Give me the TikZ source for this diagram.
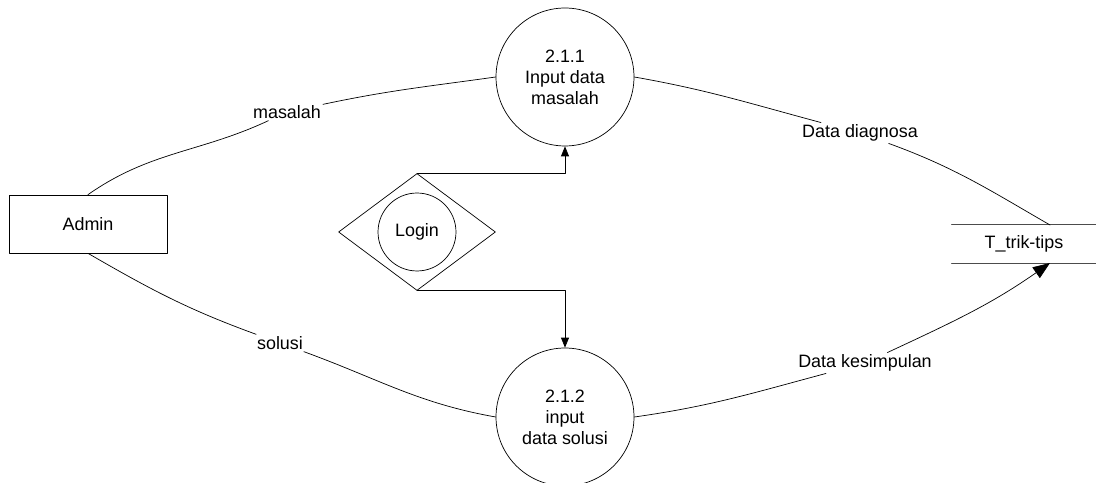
\documentclass[tikz,border=0pt]{standalone}
\usepackage{fontspec}
\setmainfont{Liberation Sans}
\usetikzlibrary{shapes.geometric,arrows.meta}
\tikzset
{
  process/.style={draw,circle,minimum size=2.76cm,inner sep=0pt,align=center},
  entity/.style={draw,rectangle,minimum width=3.16cm,minimum height=1.16cm},
  gate/.style={draw,diamond,minimum width=3.14cm,minimum height=2.34cm,inner sep=0pt},
  flowlabel/.style={inner sep=1pt},
  flow/.style={-{Triangle[length=2mm,width=1.6mm]}},
  bigflow/.style={-{Triangle[length=3.4mm,width=2.6mm]}}
}

\begin{document}
\begin{tikzpicture}[x=0.02cm,y=0.02cm,line cap=round,line join=round,
    font=\fontsize{10.2}{12}\selectfont]
            \useasboundingbox (0,0) rectangle (1096,483);
            % vozlisca
            \node[entity]  (admin) at (88,259)  {Admin};
            \node[process] (p211)  at (565,406) {2.1.1\\Input data\\masalah};
            \node[process] (p212)  at (565,66)  {2.1.2\\input\\data solusi};
            \node[gate]    (gate)  at (417,251) {};
            \node[draw,circle,minimum size=1.56cm,inner sep=0pt] (login) at (417,251) {Login};
            \node[minimum width=2.88cm,minimum height=0.76cm] (store) at (1024,239) {T\_trik-tips};
            % podatkovna shramba
            \draw[black!70,line width=0.6pt] (store.north west) -- (store.north east);
            \draw[black!70,line width=0.6pt] (store.south west) -- (store.south east);
            \coordinate (sin)  at (1050,258);
            \coordinate (sout) at (1050,220);
            % oznake tokov
            \node[flowlabel] (lmas)  at (287,371) {masalah};
            \node[flowlabel] (ldiag) at (860,350) {Data diagnosa};
            \node[flowlabel] (lsol)  at (280,140) {solusi};
            \node[flowlabel] (lkes)  at (865,120) {Data kesimpulan};
            % tokovi
            \draw (admin.north) to[out=35,in=205] (lmas) to[out=12,in=188] (p211.west);
            \draw (p211.east) to[out=-10,in=165] (ldiag) to[out=-20,in=150] (sin);
            \draw (admin.south) to[out=-30,in=160] (lsol) to[out=-20,in=170] (p212.west);
            \draw[bigflow] (p212.east) to[out=8,in=195] (lkes) to[out=25,in=215] (sout);
            % prijava
            \draw[flow] (gate.north) -| (p211.south);
            \draw[flow] (gate.south) -| (p212.north);
\end{tikzpicture}
\end{document}
